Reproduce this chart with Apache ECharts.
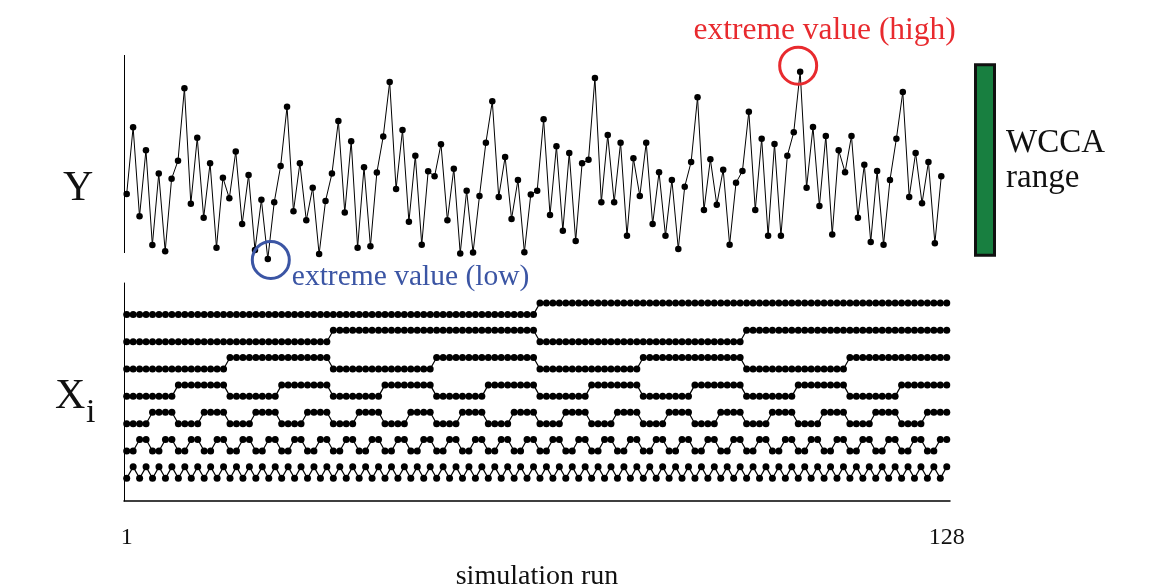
<!DOCTYPE html>
<html>
<head>
<meta charset="utf-8">
<script src="https://cdn.jsdelivr.net/npm/echarts@6/dist/echarts.min.js"></script>
<style>
  html, body { margin: 0; padding: 0; background: #ffffff; }
  #chart { width: 1150px; height: 586px; }
</style>
</head>
<body>
<div id="chart"></div>
<script>
// Output Y of each simulation run (arbitrary units, 0 = lower end of the Y axis line)
const yValues = [
  29.8, 63.5, 18.5, 51.9, 4.0, 40.1, 0.9, 37.5, 46.6, 83.2,
  24.9, 58.2, 17.8, 45.3, 2.7, 38.0, 27.6, 51.2, 14.6, 39.4,
  1.5, 26.9, -3.0, 25.6, 43.9, 73.9, 21.1, 45.3, 16.5, 33.0,
  -0.5, 26.3, 40.1, 66.7, 20.4, 56.4, 2.7, 43.3, 3.4, 40.6,
  58.9, 86.4, 32.3, 62.1, 15.8, 49.1, 4.2, 41.3, 38.7, 54.9,
  16.5, 42.6, -0.2, 31.5, 0.2, 28.8, 55.7, 76.6, 28.3, 48.5,
  17.2, 36.9, 0.4, 29.6, 31.5, 67.5, 19.2, 53.9, 11.3, 50.5,
  6.1, 45.3, 47.1, 88.4, 25.6, 59.6, 25.6, 55.7, 8.7, 47.8,
  28.8, 55.7, 14.6, 40.8, 8.7, 36.9, 2.0, 33.5, 46.0, 78.6,
  21.7, 47.3, 24.4, 42.1, 4.2, 35.5, 41.4, 71.4, 21.7, 57.7,
  8.7, 55.1, 8.7, 49.1, 61.0, 91.6, 33.0, 63.6, 23.7, 59.1,
  9.4, 51.9, 40.8, 59.1, 17.8, 44.6, 5.6, 41.4, 4.2, 36.9,
  57.7, 81.3, 28.3, 50.5, 25.1, 46.0, 4.9, 38.7
];

// Input settings X_i per run (0 = low level, 1 = high level), top row first
const x1 = '0000000000000000 0000000000000000 0000000000000000 0000000000000000 1111111111111111 1111111111111111 1111111111111111 1111111111111111';
const x2 = '0000000000000000 0000000000000000 1111111111111111 1111111111111111 0000000000000000 0000000000000000 1111111111111111 1111111111111111';
const x3 = '0000000000000000 1111111111111111 0000000000000000 1111111111111111 0000000000000000 1111111111111111 0000000000000000 1111111111111111';
const x4 = '0000000011111111 0000000011111111 0000000011111111 0000000011111111 0000000011111111 0000000011111111 0000000011111111 0000000011111111';
const x5 = '0000111100001111 0000111100001111 0000111100001111 0000111100001111 0000111100001111 0000111100001111 0000111100001111 0000111100001111';
const x6 = '0011001100110011 0011001100110011 0011001100110011 0011001100110011 0011001100110011 0011001100110011 0011001100110011 0011001100110011';
const x7 = '0101010101010101 0101010101010101 0101010101010101 0101010101010101 0101010101010101 0101010101010101 0101010101010101 0101010101010101';
const inputRows = [x1, x2, x3, x4, x5, x6, x7];

// Tick labels of the run axis
const runTicks = [1, 128];

// Extent of the drawn Y axis line
const yLineRange = [0, 100];

const FONT = 'Liberation Serif';
const RED = '#e82a2e';
const BLUE = '#3b55a4';

const runs = yValues.map((_, i) => i + 1);

// Each input row sits on its own baseline; the high level is drawn slightly above it
const ROW_BASE = 0.83;
const STEP = 0.42;
const inputSeries = inputRows.map((row, r) => {
  const bits = row.replace(/\s+/g, '').split('').map(Number);
  const level = inputRows.length - 1 - r;
  return {
    type: 'line',
    xAxisIndex: 1,
    yAxisIndex: 1,
    data: bits.map((b, i) => [runs[i], ROW_BASE + level + b * STEP]),
    symbol: 'circle',
    symbolSize: 7,
    showSymbol: true,
    itemStyle: { color: '#000' },
    lineStyle: { color: '#000', width: 1.2 },
    silent: true,
    clip: false
  };
});

const X_TOP_MIN = 0.579;

const chart = echarts.init(document.getElementById('chart'), null, { renderer: 'canvas' });

chart.setOption({
  animation: false,
  backgroundColor: '#ffffff',
  grid: [
    { left: 124, right: 200, top: 55, bottom: 323.1, outerBoundsMode: 'none' },
    { left: 124, right: 200, top: 283, bottom: 85, outerBoundsMode: 'none' }
  ],
  xAxis: [
    {
      type: 'value', gridIndex: 0, min: X_TOP_MIN, max: 129.36,
      axisLine: { show: false }, axisTick: { show: false },
      axisLabel: { show: false }, splitLine: { show: false }
    },
    {
      type: 'value', gridIndex: 1, min: 0.582, max: 128.5,
      axisLine: { show: true, onZero: false, lineStyle: { color: '#000', width: 1.5 } },
      axisTick: { show: false },
      splitLine: { show: false },
      axisLabel: {
        show: true, customValues: runTicks, margin: 25,
        fontFamily: FONT, fontSize: 24, color: '#111'
      },
      name: 'simulation run',
      nameLocation: 'middle',
      nameGap: 62,
      nameTextStyle: { fontFamily: FONT, fontSize: 28, color: '#111' }
    }
  ],
  yAxis: [
    {
      type: 'value', gridIndex: 0, min: -5, max: 100,
      axisLine: { show: false },
      axisTick: { show: false }, axisLabel: { show: false }, splitLine: { show: false }
    },
    {
      type: 'value', gridIndex: 1, min: 0, max: 7.98,
      axisLine: { show: true, onZero: false, lineStyle: { color: '#000', width: 1 } },
      axisTick: { show: false }, axisLabel: { show: false }, splitLine: { show: false }
    }
  ],
  series: [
    {
      type: 'line',
      xAxisIndex: 0,
      yAxisIndex: 0,
      data: yValues.map((v, i) => [runs[i], v]),
      symbol: 'circle',
      symbolSize: 6.5,
      showSymbol: true,
      clip: false,
      itemStyle: { color: '#000' },
      lineStyle: { color: '#000', width: 1 },
      // Y axis line, ending above the lowest run
      markLine: {
        silent: true,
        symbol: 'none',
        label: { show: false },
        lineStyle: { color: '#000', width: 1, type: 'solid' },
        data: [[
          { coord: [X_TOP_MIN, yLineRange[0]] },
          { coord: [X_TOP_MIN, yLineRange[1]] }
        ]]
      },
      markPoint: {
        silent: true,
        symbol: 'circle',
        symbolSize: 37,
        data: [
          {
            type: 'max',
            symbolOffset: [-2, -6],
            itemStyle: { color: 'rgba(0,0,0,0)', borderColor: RED, borderWidth: 3 },
            label: {
              show: true, position: 'inside', formatter: 'extreme value (high)',
              color: RED, fontFamily: FONT, fontSize: 31.5,
              align: 'center', verticalAlign: 'middle', offset: [26.5, -35]
            }
          },
          {
            type: 'min',
            symbolOffset: [3, 1],
            itemStyle: { color: 'rgba(0,0,0,0)', borderColor: BLUE, borderWidth: 3 },
            label: {
              show: true, position: 'inside', formatter: 'extreme value (low)',
              color: BLUE, fontFamily: FONT, fontSize: 29.5,
              align: 'left', verticalAlign: 'middle', offset: [21, 17.7]
            }
          }
        ]
      }
    }
  ].concat(inputSeries),
  graphic: [
    {
      type: 'text', x: 63, y: 189,
      style: { text: 'Y', font: '42px "' + FONT + '"', fill: '#111', align: 'left', verticalAlign: 'middle' }
    },
    {
      type: 'text', x: 55, y: 397,
      style: { text: 'X', font: '42px "' + FONT + '"', fill: '#111', align: 'left', verticalAlign: 'middle' }
    },
    {
      type: 'text', x: 86, y: 413,
      style: { text: 'i', font: '34px "' + FONT + '"', fill: '#111', align: 'left', verticalAlign: 'middle' }
    },
    {
      type: 'rect',
      shape: { x: 975.5, y: 64.8, width: 19, height: 190.4 },
      style: { fill: '#187f40', stroke: '#111', lineWidth: 3 }
    },
    {
      type: 'text', x: 1006, y: 143,
      style: { text: 'WCCA', font: '33px "' + FONT + '"', fill: '#111', align: 'left', verticalAlign: 'middle' }
    },
    {
      type: 'text', x: 1006, y: 178,
      style: { text: 'range', font: '33px "' + FONT + '"', fill: '#111', align: 'left', verticalAlign: 'middle' }
    }
  ]
});
</script>
</body>
</html>
